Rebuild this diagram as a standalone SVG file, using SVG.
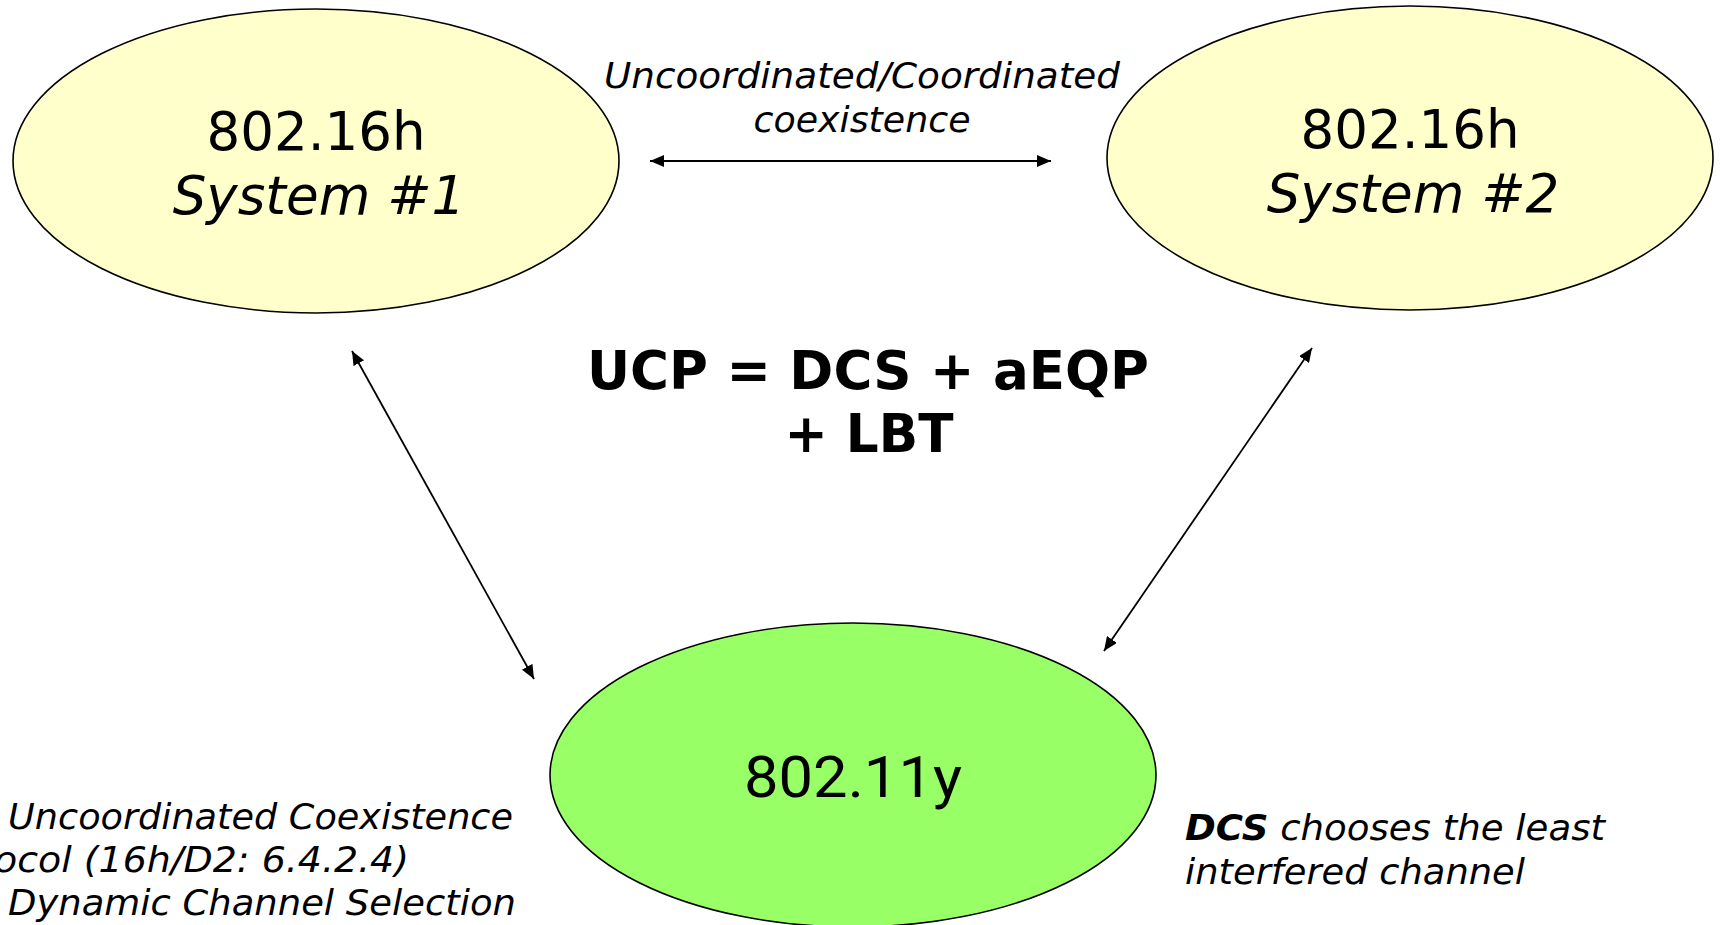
<svg xmlns="http://www.w3.org/2000/svg" width="1720" height="925" viewBox="0 0 1720 925">
<style>
.yel{fill:#FFFFCC;stroke:#000;stroke-width:1.6}
.grn{fill:#99FF66;stroke:#000;stroke-width:1.6}
.t{font-family:"DejaVu Sans",Verdana,sans-serif;fill:#000}
.big{font-size:53px}
.it{font-style:italic}
.lbl{font-size:35px;font-style:italic}
.bold{font-weight:bold}
.con{stroke:#000;stroke-width:1.8;fill:none;marker-start:url(#ah);marker-end:url(#ah)}
</style>
<defs>
<marker id="ah" viewBox="0 0 14 12" refX="14" refY="6" markerWidth="14" markerHeight="12" orient="auto-start-reverse" markerUnits="userSpaceOnUse">
<path d="M0,0 L14,6 L0,12 Z" fill="#000"/>
</marker>
</defs>
<rect width="1720" height="925" fill="#fff"/>
<g id="connectors">
<line class="con" x1="650" y1="161" x2="1051" y2="161"/>
<line class="con" x1="352" y1="351" x2="534" y2="679"/>
<line class="con" x1="1312" y1="348" x2="1104" y2="651"/>
</g>
<g id="node-sys1">
<ellipse class="yel" cx="316" cy="161" rx="303" ry="152"/>
<text class="t big" x="316" y="150" text-anchor="middle">802.16h</text>
<text class="t big it" x="319" y="214" text-anchor="middle">System #1</text>
</g>
<g id="node-sys2">
<ellipse class="yel" cx="1410" cy="158" rx="303" ry="152"/>
<text class="t big" x="1410" y="148" text-anchor="middle">802.16h</text>
<text class="t big it" x="1413" y="212" text-anchor="middle">System #2</text>
</g>
<g id="node-11y">
<ellipse class="grn" cx="853" cy="775" rx="303" ry="152"/>
<text x="853" y="797" text-anchor="middle" style="font-family:Roboto,'Liberation Sans',sans-serif;font-size:58px" textLength="218" lengthAdjust="spacingAndGlyphs">802.11y</text>
</g>
<g id="label-top">
<text class="t lbl" x="862" y="88" text-anchor="middle" textLength="516" lengthAdjust="spacingAndGlyphs">Uncoordinated/Coordinated</text>
<text class="t lbl" x="862" y="132" text-anchor="middle" textLength="217" lengthAdjust="spacingAndGlyphs">coexistence</text>
</g>
<g id="label-center">
<text class="t big bold" x="868" y="389" text-anchor="middle" textLength="562" lengthAdjust="spacingAndGlyphs">UCP = DCS + aEQP</text>
<text class="t big bold" x="869" y="452" text-anchor="middle" textLength="169" lengthAdjust="spacingAndGlyphs">+ LBT</text>
</g>
<g id="label-left">
<text class="t lbl" x="8" y="829" textLength="505" lengthAdjust="spacingAndGlyphs">Uncoordinated Coexistence</text>
<text class="t lbl" x="-6" y="872" textLength="415" lengthAdjust="spacingAndGlyphs">ocol (16h/D2: 6.4.2.4)</text>
<text class="t lbl" x="8" y="915" textLength="508" lengthAdjust="spacingAndGlyphs">Dynamic Channel Selection</text>
</g>
<g id="label-right">
<text class="t lbl" x="1185" y="840" textLength="420" lengthAdjust="spacingAndGlyphs"><tspan class="bold">DCS</tspan> chooses the least</text>
<text class="t lbl" x="1185" y="884" textLength="340" lengthAdjust="spacingAndGlyphs">interfered channel</text>
</g>
</svg>
